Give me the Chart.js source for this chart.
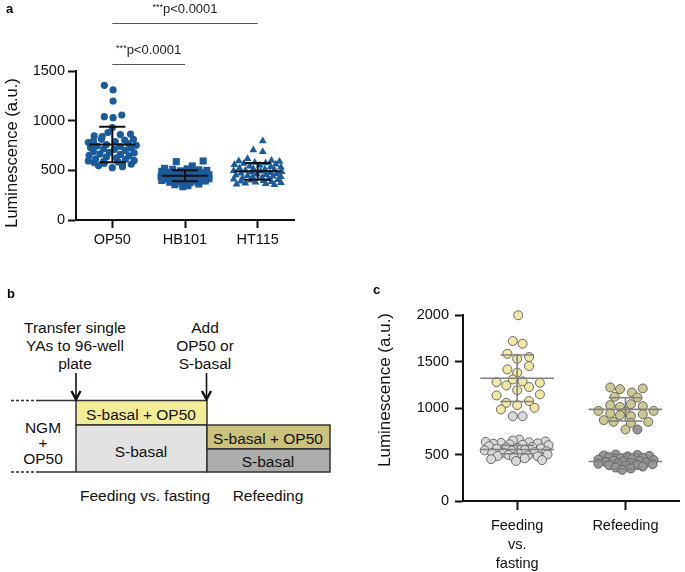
<!DOCTYPE html>
<html>
<head>
<meta charset="utf-8">
<script src="https://cdn.jsdelivr.net/npm/chart.js@4.4.0/dist/chart.umd.min.js"></script>
<style>
html, body { margin: 0; padding: 0; background: #fff; }
#page { position: relative; width: 685px; height: 572px; overflow: hidden; font-family: 'Liberation Sans', Arial, Helvetica, sans-serif; }
.panel { position: absolute; }
.letter { position: absolute; font-weight: bold; font-size: 13px; color: #000; line-height: 1; }
</style>
</head>
<body>
<div id="page">
  <div class="panel" style="left:0;top:0;width:300px;height:262px;"><canvas id="chartA"></canvas></div>
  <div class="panel" style="left:372px;top:280px;width:313px;height:292px;"><canvas id="chartC"></canvas></div>

  <svg class="panel" style="left:0;top:280px;" width="340" height="230" viewBox="0 280 340 230">
    <g stroke="#333" stroke-width="1.5" fill="none">
      <line x1="11" y1="400.5" x2="37" y2="400.5" stroke-dasharray="3 2"/>
      <line x1="37" y1="400.5" x2="76" y2="400.5"/>
      <line x1="11" y1="472" x2="37" y2="472" stroke-dasharray="3 2"/>
      <line x1="37" y1="472" x2="76" y2="472"/>
    </g>
    <g stroke="#333" stroke-width="1.5">
      <rect x="76" y="400.5" width="131" height="24.5" fill="#f3ec96"/>
      <rect x="76" y="425" width="131" height="47" fill="#e2e2e2"/>
      <rect x="207" y="425" width="123" height="24" fill="#cbc37b"/>
      <rect x="207" y="449" width="123" height="23" fill="#acacac"/>
    </g>
    <g stroke="#111" stroke-width="1.6" fill="none">
      <line x1="76" y1="373" x2="76" y2="399"/>
      <polyline points="71.5,391 76,399.5 80.5,391" stroke-width="2.4"/>
      <line x1="206.5" y1="373" x2="206.5" y2="399"/>
      <polyline points="202,391 206.5,399.5 211,391" stroke-width="2.4"/>
    </g>
    <g font-family="'Liberation Sans', Arial, sans-serif" font-size="15.5" fill="#111" text-anchor="middle" dominant-baseline="central">
      <text x="75" y="327">Transfer single</text>
      <text x="75" y="345">YAs to 96-well</text>
      <text x="75" y="363">plate</text>
      <text x="205" y="327">Add</text>
      <text x="205" y="345">OP50 or</text>
      <text x="205" y="363">S-basal</text>
      <text x="43" y="427">NGM</text>
      <text x="43" y="442">+</text>
      <text x="43" y="458">OP50</text>
      <text x="141" y="414">S-basal + OP50</text>
      <text x="141" y="451">S-basal</text>
      <text x="268" y="438">S-basal + OP50</text>
      <text x="268" y="461">S-basal</text>
      <text x="145" y="495">Feeding vs. fasting</text>
      <text x="268" y="495">Refeeding</text>
    </g>
  </svg>

  <div class="letter" style="left:6px;top:2px;">a</div>
  <div class="letter" style="left:7px;top:287px;">b</div>
  <div class="letter" style="left:373px;top:283px;">c</div>
</div>

<script>
// ---- panel a data ----
const groupsA = ['OP50', 'HB101', 'HT115'];
const yTicksA = [0, 500, 1000, 1500];

const op50Values = [1356, 1309, 1198, 1057, 1040, 1030, 930, 880, 865, 860, 846, 840, 812, 812, 805, 795, 790, 780, 770, 760,
  752, 745, 740, 730, 725, 715, 710, 700, 690, 680, 675, 665, 660, 650, 645, 635, 625, 615, 610, 600,
  595, 590, 585, 577, 571, 561, 555, 545, 537, 527];
const op50Jitter = [-0.11, 0.01, 0.01, 0.13, -0.11, 0.01, 0, -0.06, 0.25, 0.11, -0.25, -0.14, -0.15, 0.29, 0.17, -0.26, 0.04, -0.33, 0.22, -0.08,
  0.33, -0.21, 0.11, -0.30, 0.26, -0.12, 0.03, 0.18, -0.26, -0.04, 0.30, -0.17, 0.11, -0.32, 0.23, -0.08, 0.06, -0.23, 0.18, 0.30,
  -0.33, -0.12, 0.08, -0.25, -0.11, 0.26, 0.14, -0.19, 0.14, 0];

const hb101Values = [594, 587, 544, 520, 515, 510, 505, 500, 495, 490, 485, 480, 478, 472, 470, 465, 460, 458, 455, 450,
  448, 445, 442, 440, 438, 435, 432, 430, 428, 425, 422, 420, 418, 415, 412, 410, 405, 402, 398, 395,
  392, 388, 385, 380, 375, 370, 362, 355, 345, 335];
const hb101Jitter = [0.25, -0.12, 0.10, -0.28, 0.03, -0.17, 0.19, 0.30, -0.06, -0.32, 0.12, -0.21, 0.28, -0.08, 0.04, 0.19, -0.28, -0.14, 0.33, 0.10,
  -0.03, -0.22, 0.23, -0.33, 0.14, -0.10, 0.03, 0.29, -0.18, -0.28, 0.18, 0.07, -0.06, 0.33, -0.23, 0.23, -0.14, 0.11, -0.32, 0.01,
  0.28, -0.08, 0.17, -0.21, 0.07, -0.04, 0.19, -0.14, 0.04, -0.03];

const ht115Values = [795, 705, 688, 617, 600, 595, 590, 580, 575, 570, 560, 555, 550, 540, 535, 530, 520, 515, 510, 505,
  498, 495, 490, 485, 480, 475, 470, 465, 460, 455, 450, 445, 440, 435, 430, 425, 420, 415, 410, 405,
  400, 395, 390, 385, 380, 375, 370, 365, 360, 355];
const ht115Jitter = [0.07, -0.06, 0.07, -0.14, 0.19, -0.26, 0.30, -0.04, 0.11, -0.19, 0.25, -0.32, 0.03, -0.11, 0.18, 0.32, -0.25, -0.06, 0.10, 0.23,
  -0.17, -0.33, 0.04, 0.33, -0.08, 0.17, -0.23, 0.26, -0.01, 0.11, -0.30, -0.14, 0.21, 0.32, -0.07, 0.06, -0.21, 0.15, -0.33, 0.28,
  -0.10, 0.08, -0.23, 0.19, -0.03, 0.32, -0.17, 0.11, -0.29, 0.23];

const meansA = [760, 445, 490];
const sdsA = [178, 55, 84];

const sigPairs = [[0, 1], [0, 2]];
const sigHeights = [1570, 1985];
const sigStars = ['***', '***'];
const sigLabels = ['p<0.0001', 'p<0.0001'];

// ---- panel c data ----
const groupsC = [['Feeding', 'vs.', 'fasting'], ['Refeeding']];
const yTicksC = [0, 500, 1000, 1500, 2000];

const fedValues = [1997, 1720, 1691, 1583, 1548, 1529, 1451, 1415, 1379, 1307, 1286, 1278, 1271, 1243, 1225, 1192, 1146, 1135, 1074, 1055, 1031, 1002, 984];
const fedJitter = [0.01, -0.04, 0.05, -0.09, 0.11, 0, 0.11, -0.09, 0, -0.04, 0.05, -0.19, 0.21, -0.10, 0.11, 0, 0.21, -0.19, 0.11, -0.10, 0, 0.16, -0.15];

const fastValues = [912, 912, 660, 650, 640, 635, 630, 625, 620, 615, 610, 605, 600, 590, 580, 575, 570, 565, 560, 550,
  545, 540, 535, 525, 520, 515, 510, 500, 495, 490, 485, 480, 470, 460, 450, 440, 430];
const fastJitter = [-0.04, 0.05, 0.02, -0.04, 0.26, -0.29, 0.11, -0.15, 0.19, -0.22, -0.07, 0.05, 0.29, -0.26, 0.14, -0.10, 0, 0.22, -0.19, 0.07,
  -0.30, -0.05, 0.27, 0.16, -0.13, -0.23, 0.01, 0.28, -0.08, 0.10, -0.18, 0.19, -0.03, 0.07, -0.24, 0.23, -0.01];

const refedValues = [1221, 1210, 1203, 1167, 1120, 1113, 1041, 1031, 1020, 1012, 969, 969, 958, 941, 934, 923, 912, 869, 851, 851, 840, 769];
const refedJitter = [-0.14, 0.16, -0.05, 0.06, -0.10, 0.11, 0.05, -0.14, 0.16, -0.05, -0.25, 0.26, 0, -0.14, 0.16, -0.05, 0.05, -0.20, -0.11, 0.21, 0.05, 0];

const refastValues = [769, 500, 495, 490, 485, 480, 470, 465, 455, 450, 445, 440, 435, 430, 425, 420, 415, 410, 405, 400,
  395, 390, 385, 380, 370, 360, 350, 335];
const refastJitter = [0.11, -0.09, 0.11, -0.20, 0.22, 0.02, -0.15, 0.16, -0.05, 0.06, -0.25, 0.26, -0.11, 0.13, -0.02, -0.18, 0.19, 0.05, -0.07, -0.25,
  0.25, 0.11, -0.15, 0, 0.16, -0.09, 0.05, -0.03];

const summaryCx = [0, 0, 1, 1];
const meansC = [1320, 553, 985, 425];
const sdsC = [250, 45, 125, 80];

// ---- helpers / plugins ----
const FONT = "'Liberation Sans', Arial, Helvetica, sans-serif";

function toPoints(center, values, jitter) {
    return values.map((v, i) => ({ x: center + jitter[i], y: v }));
}

const meanSdPlugin = {
    id: 'meanSd',
    afterDatasetsDraw(chart, args, opts) {
        const { ctx, scales: { x, y } } = chart;
        const unit = x.getPixelForValue(1) - x.getPixelForValue(0);
        ctx.save();
        ctx.strokeStyle = opts.color;
        ctx.lineWidth = opts.width;
        opts.xs.forEach((cx0, i) => {
            const cx = x.getPixelForValue(cx0);
            const ym = y.getPixelForValue(opts.means[i]);
            const yt = y.getPixelForValue(opts.means[i] + opts.sds[i]);
            const yb = y.getPixelForValue(opts.means[i] - opts.sds[i]);
            const hm = opts.meanHalf * unit, hc = opts.capHalf * unit;
            ctx.beginPath();
            ctx.moveTo(cx - hm, ym); ctx.lineTo(cx + hm, ym);
            ctx.moveTo(cx - hc, yt); ctx.lineTo(cx + hc, yt);
            ctx.moveTo(cx - hc, yb); ctx.lineTo(cx + hc, yb);
            ctx.moveTo(cx, yt); ctx.lineTo(cx, yb);
            ctx.stroke();
        });
        ctx.restore();
    }
};

const yTitlePlugin = {
    id: 'yTitle',
    afterDraw(chart, args, opts) {
        const ctx = chart.ctx;
        ctx.save();
        ctx.translate(opts.x, opts.y);
        ctx.rotate(-Math.PI / 2);
        ctx.font = opts.size + 'px ' + FONT;
        ctx.fillStyle = '#111';
        ctx.textAlign = 'center';
        ctx.textBaseline = 'middle';
        ctx.fillText(opts.text, 0, 0);
        ctx.restore();
    }
};

const sigPlugin = {
    id: 'sig',
    afterDraw(chart) {
        const { ctx, scales: { x, y } } = chart;
        ctx.save();
        sigPairs.forEach((p, i) => {
            const x1 = x.getPixelForValue(p[0]);
            const x2 = x.getPixelForValue(p[1]);
            const yy = Math.round(y.getPixelForValue(sigHeights[i])) + 0.5;
            ctx.strokeStyle = '#555';
            ctx.lineWidth = 1;
            ctx.beginPath();
            ctx.moveTo(x1, yy); ctx.lineTo(x2, yy);
            ctx.stroke();

            ctx.font = '9px ' + FONT;
            const sw = ctx.measureText(sigStars[i]).width;
            ctx.font = '13px ' + FONT;
            const pw = ctx.measureText(sigLabels[i]).width;
            const start = (x1 + x2) / 2 - (sw + pw) / 2;
            const base = yy - 11;
            ctx.fillStyle = '#222';
            ctx.textAlign = 'left';
            ctx.textBaseline = 'alphabetic';
            ctx.font = '9px ' + FONT;
            ctx.fillText(sigStars[i], start, base - 3);
            ctx.font = '13px ' + FONT;
            ctx.fillText(sigLabels[i], start + sw, base);
        });
        ctx.restore();
    }
};

function axisStyle(tickLen) {
    return {
        grid: { display: true, drawOnChartArea: false, drawTicks: true, tickLength: tickLen, tickWidth: 2, tickColor: '#111' },
        border: { display: true, color: '#111', width: 2 }
    };
}

// ---- panel a ----
const blue = '#1c5b9b';
new Chart(document.getElementById('chartA').getContext('2d'), {
    type: 'scatter',
    data: {
        datasets: [
            { data: toPoints(0, op50Values, op50Jitter), pointStyle: 'circle', pointRadius: 3.6, backgroundColor: blue, borderColor: blue, borderWidth: 0 },
            { data: toPoints(1, hb101Values, hb101Jitter), pointStyle: 'rect', pointRadius: 5, backgroundColor: blue, borderColor: blue, borderWidth: 0 },
            { data: toPoints(2, ht115Values, ht115Jitter), pointStyle: 'triangle', pointRadius: 4.5, backgroundColor: blue, borderColor: blue, borderWidth: 0 }
        ]
    },
    options: {
        responsive: true,
        maintainAspectRatio: false,
        animation: false,
        events: [],
        layout: { padding: { top: 71, right: 6, bottom: 0, left: 0 } },
        scales: {
            x: {
                type: 'linear', min: -0.5, max: 2.5,
                ...axisStyle(8),
                afterBuildTicks: s => { s.ticks = groupsA.map((g, i) => ({ value: i })); },
                afterFit: s => { s.height = 42; },
                ticks: { color: '#111', padding: 3.5, font: { family: FONT, size: 14.5 }, callback: v => groupsA[v] }
            },
            y: {
                min: 0, max: 1500,
                ...axisStyle(8),
                afterBuildTicks: s => { s.ticks = yTicksA.map(v => ({ value: v })); },
                afterFit: s => { s.width = 76; },
                ticks: { color: '#111', padding: 3, font: { family: FONT, size: 14.5 }, callback: v => String(v) }
            }
        },
        plugins: {
            legend: { display: false },
            tooltip: { enabled: false },
            meanSd: { xs: [0, 1, 2], means: meansA, sds: sdsA, color: '#111', width: 2, meanHalf: 0.32, capHalf: 0.18 },
            yTitle: { text: 'Luminescence (a.u.)', x: 12, y: 153, size: 16.5 }
        }
    },
    plugins: [meanSdPlugin, yTitlePlugin, sigPlugin]
});

// ---- panel c ----
const dotBorder = '#5a5a5a';
new Chart(document.getElementById('chartC').getContext('2d'), {
    type: 'scatter',
    data: {
        datasets: [
            { data: toPoints(0, fastValues, fastJitter), pointRadius: 4.5, backgroundColor: '#d9d9d9', borderColor: dotBorder, borderWidth: 0.9, clip: false },
            { data: toPoints(0, fedValues, fedJitter), pointRadius: 4.5, backgroundColor: '#f1e8a6', borderColor: dotBorder, borderWidth: 0.9, clip: false },
            { data: toPoints(1, refastValues, refastJitter), pointRadius: 4.5, backgroundColor: '#979797', borderColor: dotBorder, borderWidth: 0.9, clip: false },
            { data: toPoints(1, refedValues, refedJitter), pointRadius: 4.5, backgroundColor: '#cdc790', borderColor: dotBorder, borderWidth: 0.9, clip: false }
        ]
    },
    options: {
        responsive: true,
        maintainAspectRatio: false,
        animation: false,
        events: [],
        layout: { padding: { top: 35, right: 3, bottom: 0, left: 0 } },
        scales: {
            x: {
                type: 'linear', min: -0.5, max: 1.5,
                ...axisStyle(9),
                afterBuildTicks: s => { s.ticks = groupsC.map((g, i) => ({ value: i })); },
                afterFit: s => { s.height = 71; },
                ticks: { color: '#111', padding: 6, font: { family: FONT, size: 14.5, lineHeight: 1.33 }, callback: v => groupsC[v] }
            },
            y: {
                min: 0, max: 2000,
                ...axisStyle(8),
                afterBuildTicks: s => { s.ticks = yTicksC.map(v => ({ value: v })); },
                afterFit: s => { s.width = 91; },
                ticks: { color: '#111', padding: 6, font: { family: FONT, size: 14.5 }, callback: v => String(v) }
            }
        },
        plugins: {
            legend: { display: false },
            tooltip: { enabled: false },
            meanSd: { xs: summaryCx, means: meansC, sds: sdsC, color: '#808080', width: 1.6, meanHalf: 0.34, capHalf: 0.155 },
            yTitle: { text: 'Luminescence (a.u.)', x: 13, y: 110, size: 17 }
        }
    },
    plugins: [meanSdPlugin, yTitlePlugin]
});
</script>
</body>
</html>
